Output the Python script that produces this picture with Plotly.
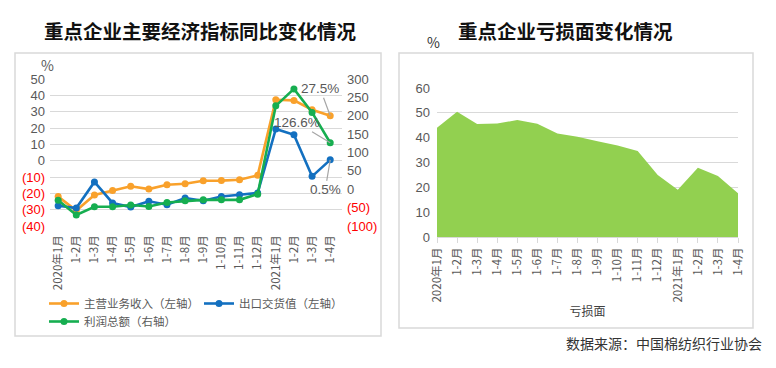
import plotly.graph_objects as go

# page body has an 8px margin; the figure fills the remaining window
OFF = 8
W, H = 776 - OFF, 368 - OFF
months = ["2020年1月", "1-2月", "1-3月", "1-4月", "1-5月", "1-6月", "1-7月", "1-8月",
          "1-9月", "1-10月", "1-11月", "1-12月", "2021年1月", "1-2月", "1-3月", "1-4月"]
revenue = [-22, -30.5, -21, -18.2, -15.7, -17.4, -14.7, -14.1, -12.3, -12.2, -11.7, -9, 37.3, 36.9, 31.2, 27.5]
export = [-27.6, -29, -13, -25.9, -28.4, -24.9, -27, -22.9, -24.5, -21.9, -20.9, -19.8, 19.4, 15.9, -9.6, 0.5]
profit = [-29.7, -70, -47.8, -47.8, -43, -46.8, -36, -31.6, -28.8, -28.8, -28.8, -13.5, 227, 273, 209, 126.6]
loss_ratio = [44, 50.4, 45.5, 45.7, 47.1, 45.6, 41.7, 40.4, 38.6, 36.8, 34.6, 25, 19, 27.9, 24.6, 17.6]

left_ticks = [50, 40, 30, 20, 10, 0, -10, -20, -30, -40]
right_ticks = [300, 250, 200, 150, 100, 50, 0, -50, -100]
area_ticks = [0, 10, 20, 30, 40, 50, 60]

RED = "#FF0000"
GRAY = "#595959"
FONT = "Noto Sans CJK SC"
NUMFONT = "Liberation Sans"


def fmt(v):
    return f"<span style='color:{RED}'>({abs(v)})</span>" if v < 0 else str(v)


def px(x):
    return (x - OFF) / W


def py(y):
    return 1 - (y - OFF) / H


idx = list(range(len(months)))
fig = go.Figure()

series = [("主营业务收入（左轴）", revenue, "#F9A12B", "y", "legend"),
          ("出口交货值（左轴）", export, "#1370C0", "y", "legend"),
          ("利润总额（右轴）", profit, "#16AE50", "y2", "legend2")]
for name, vals, col, yax, lg in series:
    fig.add_trace(go.Scatter(x=idx, y=vals, name=name, mode="lines+markers",
                             line=dict(color=col, width=2.6), marker=dict(size=7, color=col),
                             xaxis="x", yaxis=yax, legend=lg))

fig.add_trace(go.Scatter(x=idx, y=loss_ratio, name="亏损面", mode="lines", fill="tozeroy",
                         fillcolor="#92D050", line=dict(width=0, color="#92D050"),
                         xaxis="x3", yaxis="y3", showlegend=False))

numfont = dict(family=NUMFONT, size=13, color=GRAY)
fig.update_layout(
    width=W, height=H, margin=dict(l=0, r=0, t=0, b=0, autoexpand=False),
    paper_bgcolor="white", plot_bgcolor="rgba(0,0,0,0)",
    font=dict(family=FONT, color=GRAY, size=12),
    xaxis=dict(domain=[px(50), px(342)], range=[-0.45, 15.65], tickvals=idx, ticktext=months,
               tickangle=-90, showgrid=False, zeroline=False, showline=False, ticks="",
               ticklabelstandoff=6, tickfont=dict(size=11.5, color=GRAY), automargin=False),
    yaxis=dict(domain=[py(226), py(79)], range=[-40, 50], tickvals=left_ticks,
               ticktext=[fmt(v) for v in left_ticks], showgrid=True, gridcolor="#D9D9D9",
               gridwidth=1.3, zeroline=False, tickfont=numfont,
               ticklabelstandoff=4, automargin=False),
    yaxis2=dict(overlaying="y", side="right", range=[-100, 300], tickvals=right_ticks,
                ticktext=[fmt(v) for v in right_ticks], showgrid=False, zeroline=False,
                tickfont=numfont, anchor="x", ticklabelstandoff=4, automargin=False),
    xaxis3=dict(domain=[px(437), px(738)], range=[0, 15], tickvals=idx, ticktext=months,
                tickangle=-90, showgrid=False, zeroline=False, showline=True, linecolor="#D9D9D9",
                ticks="outside", ticklen=5, tickcolor="#D9D9D9", anchor="y3",
                tickfont=dict(size=11.5, color=GRAY), automargin=False,
                title=dict(text="亏损面", font=dict(size=12, color="#404040"), standoff=6)),
    yaxis3=dict(domain=[py(237), py(88)], range=[0, 60], tickvals=area_ticks, anchor="x3",
                showgrid=True, gridcolor="#D9D9D9", gridwidth=1.3, zeroline=False,
                tickfont=numfont, ticklabelstandoff=6, automargin=False),
    legend=dict(orientation="h", x=px(44), y=py(289), xanchor="left", yanchor="top",
                font=dict(size=11.5, color=GRAY), bgcolor="rgba(0,0,0,0)", itemwidth=30,
                tracegroupgap=0, entrywidth=110),
    legend2=dict(orientation="h", x=px(44), y=py(307), xanchor="left", yanchor="top",
                 font=dict(size=11.5, color=GRAY), bgcolor="rgba(0,0,0,0)", itemwidth=30),
    shapes=[
        dict(type="rect", xref="paper", yref="paper", x0=px(15), x1=px(381), y0=py(336), y1=py(53),
             line=dict(color="#D9D9D9", width=1.5)),
        dict(type="rect", xref="paper", yref="paper", x0=px(399), x1=px(753), y0=py(328), y1=py(53),
             line=dict(color="#D9D9D9", width=1.5)),
    ],
)

ann = [
    dict(text="<b>重点企业主要经济指标同比变化情况</b>", x=px(200), y=py(30), font=dict(size=19.5, color="#111")),
    dict(text="<b>重点企业亏损面变化情况</b>", x=px(565), y=py(30), font=dict(size=19.5, color="#111")),
    dict(text="%", x=px(47), y=py(65), font=dict(size=14, color=GRAY)),
    dict(text="%", x=px(433), y=py(42), font=dict(size=14, color="#333")),
    dict(text="数据来源：中国棉纺织行业协会", x=px(764), y=py(343), xanchor="right",
         font=dict(size=14, color="#333")),
]
for a in ann:
    a.update(xref="paper", yref="paper", showarrow=False, yanchor="middle")
    a.setdefault("xanchor", "center")
    fig.add_annotation(**a)

last = len(months) - 1
lblfont = dict(family=NUMFONT, size=13.5, color=GRAY)
fig.add_annotation(x=last, y=revenue[last], xref="x", yref="y", text="27.5%", showarrow=True,
                   arrowhead=0, arrowcolor="#A6A6A6", arrowwidth=1.2, ax=-10, ay=-27, font=lblfont)
fig.add_annotation(x=last, y=profit[last], xref="x", yref="y2", text="126.6%", showarrow=True,
                   arrowhead=0, arrowcolor="#A6A6A6", arrowwidth=1.2, ax=-33, ay=-20, font=lblfont)
fig.add_annotation(x=last, y=export[last], xref="x", yref="y", text="0.5%", showarrow=True,
                   arrowhead=0, arrowcolor="#A6A6A6", arrowwidth=1.2, ax=-5, ay=30, font=lblfont)

fig.write_html("out.html")
